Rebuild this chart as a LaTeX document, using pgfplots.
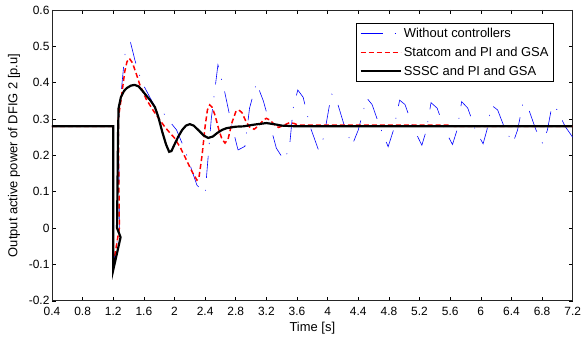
\documentclass[border=0pt]{standalone}
\usepackage{pgfplots}
\pgfplotsset{compat=1.18}
\usepackage{fontspec}
\setmainfont{Liberation Sans}
\begin{document}
\begin{tikzpicture}
\begin{axis}[name=ax, scale only axis, width=521bp, height=291bp,
  xmin=0.4, xmax=7.2, ymin=-0.2, ymax=0.6,
  xtick={0.4,0.8,1.2,1.6,2,2.4,2.8,3.2,3.6,4,4.4,4.8,5.2,5.6,6,6.4,6.8,7.2},
  xticklabels={0.4,0.8,1.2,1.6,2,2.4,2.8,3.2,3.6,4,4.4,4.8,5.2,5.6,6,6.4,6.8,7.2},
  ytick={-0.2,-0.1,0,0.1,0.2,0.3,0.4,0.5,0.6},
  yticklabels={-0.2,-0.1,0,0.1,0.2,0.3,0.4,0.5,0.6},
  tick align=inside, xtick pos=both, ytick pos=both,
  major tick length=4bp,
  tick style={black, line width=0.6pt},
  axis line style={black!85, line width=0.8pt},
  tick label style={font=\fontsize{12}{14}\selectfont},
  xticklabel style={yshift=-2.5bp},
  yticklabel style={xshift=1bp},
  label style={font=\fontsize{13}{15}\selectfont},
  xlabel={Time [s]}, ylabel={Output active power of DFIG 2 [p.u]},
  ylabel style={yshift=2bp},
  legend style={at={(1,1)}, xshift=-19bp, yshift=-12.7bp, anchor=north east,
    font=\fontsize{13}{15}\selectfont, draw=black, line width=0.6pt, inner sep=3bp, row sep=4bp},
  legend image code/.code={\draw[#1] (0bp,0bp) -- (40bp,0bp);},
  legend cell align=left,
]
\addplot[blue, line width=0.6pt, dash pattern=on 22bp off 12bp on 1bp off 12bp] coordinates {
(0.4,0.28)(1.2,0.28)(1.2,-0.1)(1.28,0.0)(1.27,0.3)(1.35,0.476)(1.427,0.51)(1.483,0.462)
(1.57,0.403)(1.744,0.334)(1.85,0.318)(1.95,0.29)(2.027,0.27)(2.136,0.215)(2.293,0.118)(2.40,0.095)
(2.48,0.30)(2.567,0.449)(2.65,0.38)(2.74,0.29)(2.83,0.215)(2.92,0.225)(2.98,0.33)(3.07,0.40)
(3.16,0.35)(3.24,0.29)(3.33,0.22)(3.43,0.187)(3.5,0.22)(3.55,0.33)(3.61,0.38)(3.68,0.36)
(3.77,0.28)(3.88,0.215)(3.95,0.25)(4.05,0.37)(4.12,0.35)(4.22,0.28)(4.32,0.228)(4.40,0.27)
(4.51,0.358)(4.58,0.34)(4.68,0.28)(4.79,0.224)(4.86,0.27)(4.94,0.352)(5.01,0.34)(5.11,0.28)
(5.23,0.228)(5.29,0.27)(5.35,0.345)(5.43,0.33)(5.53,0.27)(5.63,0.23)(5.69,0.27)(5.75,0.348)
(5.83,0.33)(5.93,0.27)(6.03,0.232)(6.08,0.27)(6.14,0.338)(6.22,0.325)(6.32,0.27)(6.42,0.234)
(6.48,0.27)(6.55,0.344)(6.62,0.33)(6.72,0.27)(6.81,0.232)(6.87,0.27)(6.93,0.338)(7.0,0.325)
(7.1,0.28)(7.2,0.25)};
\addlegendentry{Without controllers}
\addplot[red, line width=1.5pt, dash pattern=on 5bp off 3bp] coordinates {
(0.4,0.28)(1.2,0.28)(1.2,-0.1)(1.28,0.0)(1.265,0.30)(1.30,0.35)(1.35,0.43)(1.38,0.458)(1.41,0.467)
(1.45,0.455)(1.50,0.425)(1.548,0.394)(1.63,0.355)(1.718,0.325)(1.80,0.30)(1.875,0.278)(1.94,0.262)(2.0,0.248)
(2.08,0.22)(2.15,0.19)(2.23,0.155)(2.293,0.132)(2.32,0.14)(2.36,0.2)(2.40,0.28)(2.43,0.325)(2.46,0.339)
(2.49,0.333)(2.53,0.31)(2.58,0.27)(2.62,0.245)(2.66,0.234)(2.70,0.245)(2.75,0.29)(2.80,0.32)(2.84,0.325)
(2.88,0.318)(2.93,0.295)(2.98,0.278)(3.04,0.272)(3.10,0.282)(3.16,0.297)(3.2,0.302)(3.25,0.297)(3.31,0.283)
(3.36,0.277)(3.43,0.283)(3.5,0.29)(3.56,0.288)(3.62,0.283)(5.6,0.283)(5.65,0.28)(7.2,0.28)};
\addlegendentry{Statcom and PI and GSA}
\addplot[black, line width=2.2pt] coordinates {
(0.4,0.28)(1.2,0.28)(1.2,-0.115)(1.296,-0.025)(1.25,0.0)(1.262,0.25)(1.27,0.33)(1.30,0.36)
(1.34,0.377)(1.375,0.385)(1.43,0.392)(1.48,0.394)(1.53,0.39)(1.58,0.378)(1.63,0.365)(1.69,0.35)
(1.744,0.333)(1.79,0.305)(1.84,0.265)(1.89,0.23)(1.93,0.21)(1.96,0.212)(2.0,0.23)(2.05,0.252)
(2.1,0.27)(2.15,0.282)(2.2,0.286)(2.25,0.282)(2.32,0.268)(2.38,0.255)(2.44,0.248)(2.5,0.252)
(2.56,0.262)(2.62,0.27)(2.68,0.275)(2.8,0.279)(2.9,0.28)(3.05,0.285)(3.2,0.289)(3.3,0.286)
(3.4,0.282)(3.6,0.28)(7.2,0.28)};
\addlegendentry{SSSC and PI and GSA}
\end{axis}
\pgfresetboundingbox
\path ([xshift=-52bp,yshift=-40.3bp]ax.south west) rectangle ([xshift=10.3bp,yshift=10bp]ax.north east);
\end{tikzpicture}
\end{document}
